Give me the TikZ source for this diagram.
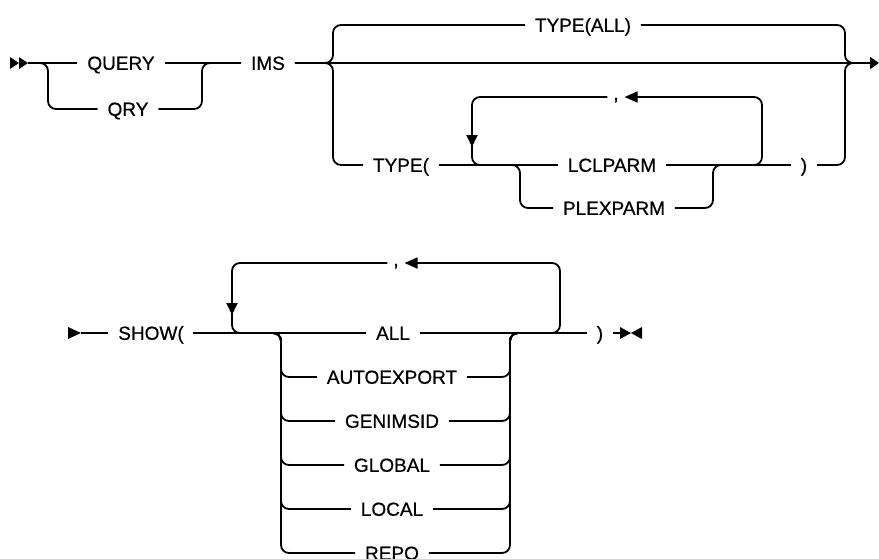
\documentclass[tikz,border=0pt]{standalone}
\usepackage{fontspec}
\setmainfont{Liberation Sans}
\newfontfamily\railfont{Liberation Sans}[FakeBold=0.6]
\usetikzlibrary{arrows.meta}
\tikzset{
  kw/.style={font=\railfont\fontsize{19}{22}\selectfont,inner xsep=9pt,inner ysep=0pt,text height=13.6pt,text depth=0pt},
  sep/.style={font=\railfont\fontsize{19}{22}\selectfont,inner xsep=5pt,inner ysep=0pt,text height=0pt,text depth=0pt},
  rail/.style={rounded corners=8pt},
  back/.style={-{Triangle[length=13pt,width=11pt]}},
  down/.style={-{Triangle[length=12pt,width=11pt]}},
}
\begin{document}
\begin{tikzpicture}[x=1pt,y=-1pt,line width=1.8pt]
\useasboundingbox (0,0) rectangle (879,558);
% first line
\foreach \x in {10,19} \fill (\x,57) -- (\x+9,63) -- (\x,69) -- cycle;
\coordinate (s1) at (28,63);
\node[kw] (query) at (121,63) {QUERY};
\node[kw] (qry) at (128,109) {QRY};
\node[kw] (ims) at (268,63) {IMS};
\node[kw] (typeall) at (583,25) {TYPE(ALL)};
\node[kw] (type) at (401,165) {TYPE(};
\node[kw] (lclparm) at (612,165) {LCLPARM};
\node[kw] (plexparm) at (614,208) {PLEXPARM};
\node[kw] (rp1) at (804,165) {)};
\node[sep] (c1) at (616,97) {\raisebox{-3pt}{,}};
\coordinate (j1) at (860,63);
\coordinate (e1) at (879,63);
\draw (s1) -- (query.west);
\draw[rail] (s1) -- (48,63) -- (48,109) -- (qry.west);
\draw (query.east) -- (ims.west);
\draw[rail] (qry.east) -- (202,109) -- (202,63) -- (ims.west);
\draw[-{Triangle[length=9pt,width=12pt]}] (ims.east) -- (e1);
\draw[rail] (ims.east) -- (333,63) -- (333,25) -- (typeall.west);
\draw[rail] (ims.east) -- (333,63) -- (333,165) -- (type.west);
\draw[rail] (typeall.east) -- (845,25) -- (845,63) -- (j1);
\draw[rail] (rp1.east) -- (845,165) -- (845,63) -- (j1);
% repeat loop
\draw (type.east) -- (lclparm.west);
\draw[rail] (c1.west) -- (472,97) -- (472,165) -- (lclparm.west);
\draw[down] (472,125) -- (472,147);
\draw[rail,back] (lclparm.east) -- (762,165) -- (762,97) -- (c1.east);
\draw[rail] (type.east) -- (520,165) -- (520,208) -- (plexparm.west);
\draw (lclparm.east) -- (rp1.west);
\draw[rail] (plexparm.east) -- (713,208) -- (713,165) -- (rp1.west);
% second line
\fill (68,327) -- (81,333) -- (68,339) -- cycle;
\coordinate (s2) at (81,333);
\node[kw] (show) at (151,333) {SHOW(};
\node[kw] (all) at (393,333) {ALL};
\node[sep] (c2) at (396,263) {\raisebox{-3pt}{,}};
\node[kw] (rp2) at (600,333) {)};
\coordinate (e2) at (620,333);
\draw (s2) -- (show.west);
\draw (show.east) -- (all.west);
\draw (all.east) -- (rp2.west);
\draw (rp2.east) -- (e2);
\fill (620,327) -- (631,333) -- (620,339) -- cycle;
\fill (642,327) -- (631,333) -- (642,339) -- cycle;
\draw[rail] (c2.west) -- (232,263) -- (232,333) -- (all.west);
\draw[down] (232,293) -- (232,315);
\draw[rail,back] (all.east) -- (560,333) -- (560,263) -- (c2.east);
\foreach \name/\txt [count=\i] in {auto/AUTOEXPORT,genimsid/GENIMSID,global/GLOBAL,local/LOCAL,repo/REPO} {
  \node[kw] (\name) at (392,333+44*\i) {\txt};
  \draw[rail] (show.east) -- (281,333) -- (281,333+44*\i) -- (\name.west);
  \draw[rail] (\name.east) -- (510,333+44*\i) -- (510,333) -- (rp2.west);
}
\end{tikzpicture}
\end{document}
